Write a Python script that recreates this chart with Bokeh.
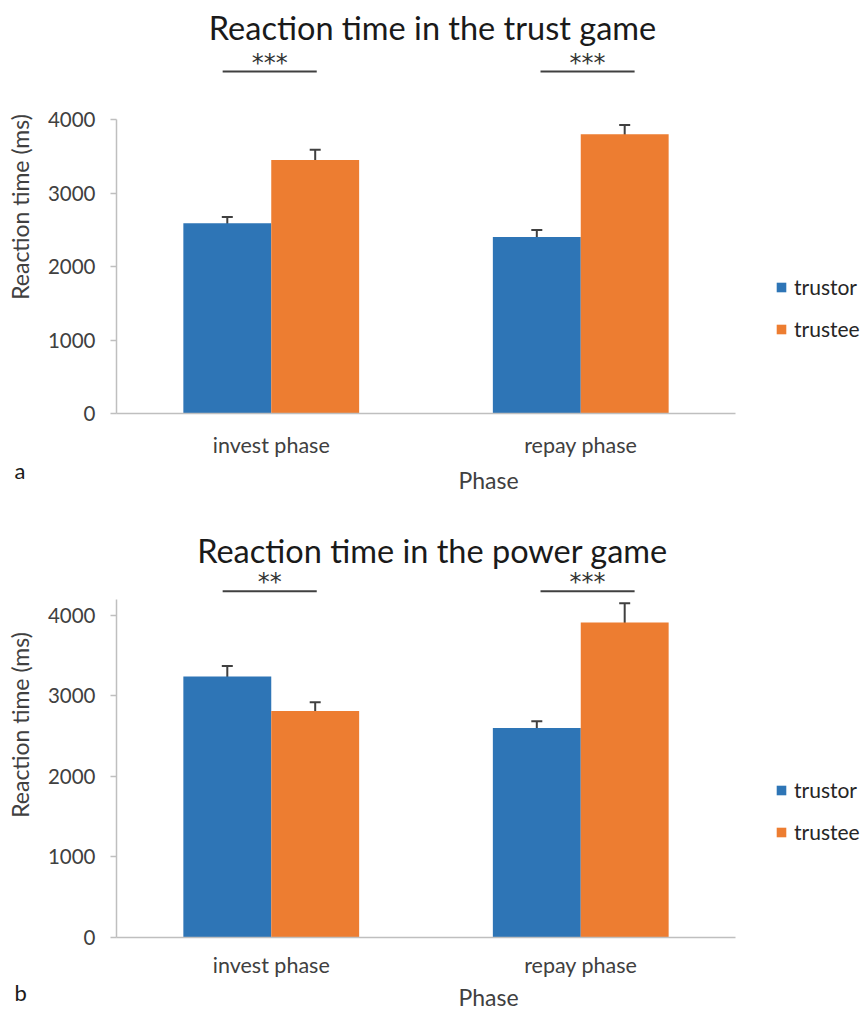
import numpy as np
from bokeh.plotting import figure
from bokeh.models import (Range1d, LinearAxis, FixedTicker, ColumnDataSource,
                          Whisker, TeeHead, Label, Legend, LegendItem, Title)
from bokeh.layouts import column
from bokeh.embed import file_html
from bokeh.resources import INLINE
from bokeh.core.properties import value

# ---------------- data ----------------
phases = ["invest phase", "repay phase"]
roles = ["trustor", "trustee"]
y_ticks = [0, 1000, 2000, 3000, 4000]

trust_trustor = [2590, 2400]
trust_trustor_err = [85, 95]
trust_trustee = [3450, 3800]
trust_trustee_err = [140, 125]
trust_sig = ["***", "***"]

power_trustor = [3240, 2600]
power_trustor_err = [130, 85]
power_trustee = [2810, 3910]
power_trustee_err = [110, 240]
power_sig = ["**", "***"]

# ---------------- style ----------------
FONT = "Lato"
BLUE = "#2E75B6"
ORANGE = "#ED7D31"
DARK = "#404040"
AXIS = "#BFBFBF"
FIG_W = 860
LEFT = 116
PX_PER_CAT = 309.5
BAR_W = 0.284
SIG_HALF = 0.152
SIG_SHIFT = [-0.005, 0.022]


def make_chart(title, letter, trustor, trustor_err, trustee, trustee_err, sig,
               fig_h, zero_px, px_per_1000, axis_top, title_px, line_px, legend_y,
               lab_standoff, axlab_standoff, letter_standoff):
    def ydat(px):
        return (zero_px - px) / px_per_1000 * 1000.0

    frame_w = FIG_W - LEFT
    ymax = ydat(0)
    p = figure(width=FIG_W, height=fig_h, output_backend="svg", toolbar_location=None,
               x_range=Range1d(0.5, 0.5 + frame_w / PX_PER_CAT),
               y_range=Range1d(0, ymax),
               x_axis_type=None, y_axis_type=None, title=None,
               min_border_left=LEFT, min_border_right=0, min_border_top=0,
               min_border_bottom=int(round(fig_h - zero_px)))
    p.outline_line_color = None
    p.grid.visible = False
    p.background_fill_color = "white"
    p.border_fill_color = "white"

    centers = np.arange(1, len(phases) + 1, dtype=float)

    # axes
    yaxis = LinearAxis(bounds=(0, axis_top), ticker=FixedTicker(ticks=y_ticks),
                       axis_label="Reaction time (ms)")
    yaxis.axis_line_color = AXIS
    yaxis.axis_line_width = 1.5
    yaxis.major_tick_line_color = AXIS
    yaxis.major_tick_line_width = 1.5
    yaxis.major_tick_out = 6
    yaxis.major_tick_in = 0
    yaxis.minor_tick_line_color = None
    yaxis.major_label_text_font = FONT
    yaxis.major_label_text_font_size = "20.5px"
    yaxis.major_label_text_color = DARK
    yaxis.major_label_standoff = 15
    yaxis.axis_label_text_font = FONT
    yaxis.axis_label_text_font_size = "23px"
    yaxis.axis_label_text_font_style = "normal"
    yaxis.axis_label_text_color = DARK
    yaxis.axis_label_standoff = 11
    p.add_layout(yaxis, "left")

    xaxis = LinearAxis(bounds=(0.5, 0.5 + len(phases)), ticker=FixedTicker(ticks=list(centers)),
                       axis_label="Phase")
    xaxis.major_label_overrides = {int(c): ph for c, ph in zip(centers, phases)}
    xaxis.axis_line_color = AXIS
    xaxis.axis_line_width = 1.5
    xaxis.major_tick_line_color = None
    xaxis.minor_tick_line_color = None
    xaxis.major_label_text_font = FONT
    xaxis.major_label_text_font_size = "21.5px"
    xaxis.major_label_text_color = DARK
    xaxis.major_label_standoff = lab_standoff
    xaxis.axis_label_text_font = FONT
    xaxis.axis_label_text_font_size = "23px"
    xaxis.axis_label_text_font_style = "normal"
    xaxis.axis_label_text_color = DARK
    xaxis.axis_label_standoff = axlab_standoff
    p.add_layout(xaxis, "below")

    # panel letter, below the x axis, pulled to the left edge
    p.add_layout(Title(text=letter, align="left", vertical_align="top",
                       offset=-(LEFT - 14), standoff=letter_standoff,
                       text_font=FONT, text_font_size="22px", text_font_style="normal",
                       text_color="#1a1a1a"), "below")

    # bars
    r1 = p.vbar(x=centers - BAR_W / 2, top=trustor, width=BAR_W, fill_color=BLUE, line_color=None)
    r2 = p.vbar(x=centers + BAR_W / 2, top=trustee, width=BAR_W, fill_color=ORANGE, line_color=None)

    # error bars
    for xs, vals, errs in ((centers - BAR_W / 2, trustor, trustor_err),
                           (centers + BAR_W / 2, trustee, trustee_err)):
        v = np.array(vals, dtype=float)
        e = np.array(errs, dtype=float)
        src = ColumnDataSource(dict(x=xs, upper=v + e, lower=v - e))
        w = Whisker(base="x", upper="upper", lower="lower", source=src,
                    line_color=DARK, line_width=2,
                    upper_head=TeeHead(size=11, line_color=DARK, line_width=2),
                    lower_head=TeeHead(size=11, line_color=DARK, line_width=2))
        p.add_layout(w)

    # significance
    sx = centers + np.array(SIG_SHIFT)
    ly = ydat(line_px)
    p.segment(x0=sx - SIG_HALF, x1=sx + SIG_HALF, y0=[ly] * len(sx), y1=[ly] * len(sx),
              line_color=DARK, line_width=2)
    p.text(x=sx, y=[ydat(line_px - 9)] * len(sx), text=sig, text_align="center",
           text_baseline="alphabetic", text_font=value("DejaVu Sans"), text_font_size="24px",
           text_color="#333333")

    # title
    p.add_layout(Label(x=0.5 + (432 - LEFT) / PX_PER_CAT, y=ydat(title_px), text=title,
                       text_font=FONT, text_font_size="32.5px", text_color="#1a1a1a",
                       text_align="center", text_baseline="middle"))

    legend = Legend(items=[LegendItem(label=roles[0], renderers=[r1]),
                           LegendItem(label=roles[1], renderers=[r2])],
                    location=(659, legend_y))
    legend.glyph_width = 12
    legend.glyph_height = 12
    legend.label_height = 20
    legend.spacing = 17
    legend.padding = 0
    legend.margin = 0
    legend.label_standoff = 7
    legend.label_text_font = FONT
    legend.label_text_font_size = "21px"
    legend.label_text_color = "#262626"
    legend.border_line_color = None
    legend.background_fill_alpha = 0
    p.add_layout(legend)
    return p


top = make_chart("Reaction time in the trust game", "a",
                 trust_trustor, trust_trustor_err, trust_trustee, trust_trustee_err, trust_sig,
                 fig_h=512, zero_px=413, px_per_1000=73.5, axis_top=4000,
                 title_px=27, line_px=71, legend_y=72,
                 lab_standoff=12, axlab_standoff=5, letter_standoff=-80)
bottom = make_chart("Reaction time in the power game", "b",
                    power_trustor, power_trustor_err, power_trustee, power_trustee_err, power_sig,
                    fig_h=501, zero_px=425.7, px_per_1000=80.7, axis_top=4200,
                    title_px=38, line_px=79, legend_y=93,
                    lab_standoff=8, axlab_standoff=2, letter_standoff=-70)

layout = column(top, bottom, spacing=0)
open("out.html", "w").write(file_html(layout, INLINE))
